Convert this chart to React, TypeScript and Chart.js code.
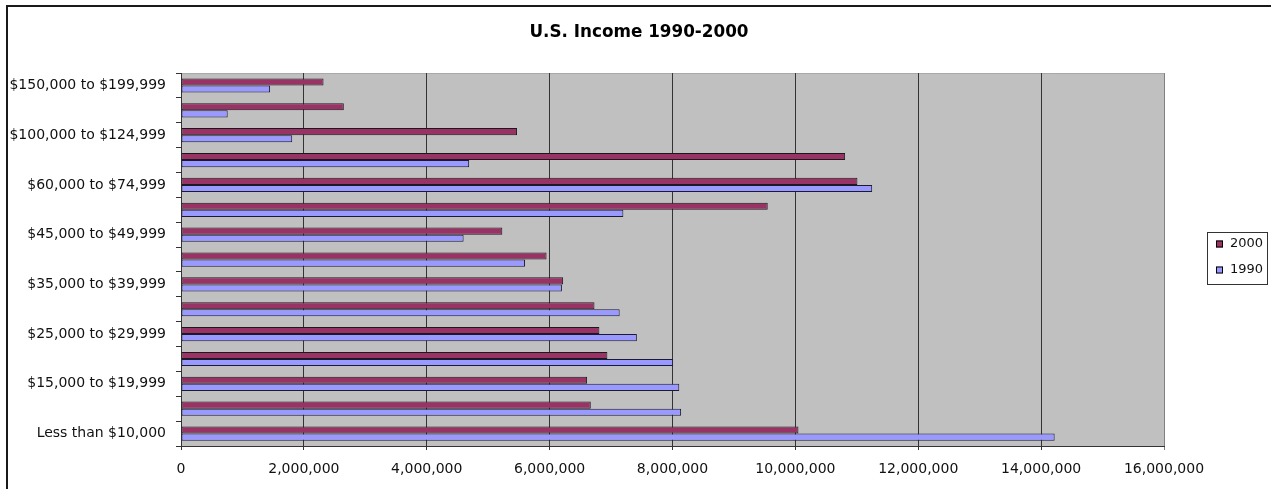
import React, { useEffect, useRef } from 'react';
import { Chart, registerables } from 'chart.js';

Chart.register(...registerables);

const categories = [
  'Less than $10,000',
  '$10,000 to $14,999',
  '$15,000 to $19,999',
  '$20,000 to $24,999',
  '$25,000 to $29,999',
  '$30,000 to $34,999',
  '$35,000 to $39,999',
  '$40,000 to $44,999',
  '$45,000 to $49,999',
  '$50,000 to $59,999',
  '$60,000 to $74,999',
  '$75,000 to $99,999',
  '$100,000 to $124,999',
  '$125,000 to $149,999',
  '$150,000 to $199,999',
];

const values2000 = [
  10050000, 6670000, 6610000, 6940000, 6810000, 6730000, 6220000, 5950000,
  5230000, 9550000, 11010000, 10810000, 5470000, 2650000, 2320000,
];

const values1990 = [
  14220000, 8140000, 8110000, 8010000, 7420000, 7140000, 6200000, 5600000,
  4600000, 7200000, 11250000, 4690000, 1810000, 760000, 1450000,
];

const labeledCategories = [
  'Less than $10,000',
  '$15,000 to $19,999',
  '$25,000 to $29,999',
  '$35,000 to $39,999',
  '$45,000 to $49,999',
  '$60,000 to $74,999',
  '$100,000 to $124,999',
  '$150,000 to $199,999',
];

const seriesNames = ['2000', '1990'];
const titleText = 'U.S. Income 1990-2000';
const xMin = 0;
const xMax = 16000000;
const xStep = 2000000;

const FONT = 'DejaVu Sans';

const decorPlugin = {
  id: 'decor',
  beforeDraw(chart: any) {
    const { ctx, chartArea: a } = chart;
    ctx.save();
    ctx.fillStyle = '#c0c0c0';
    ctx.fillRect(a.left, a.top, a.right - a.left, a.bottom - a.top);
    ctx.strokeStyle = '#a8a8a8';
    ctx.lineWidth = 1;
    ctx.beginPath();
    ctx.moveTo(a.left, a.top + 0.5);
    ctx.lineTo(a.right, a.top + 0.5);
    ctx.stroke();
    ctx.fillStyle = '#1a1a1a';
    ctx.fillRect(6, 5, 2, chart.height - 5);
    ctx.fillRect(6, 5, chart.width - 6, 2);
    ctx.restore();
  },
  afterDraw(chart: any) {
    const { ctx, chartArea: a } = chart;
    const datasets = chart.data.datasets;
    const bw = 60;
    const bh = 52;
    const bx = Math.round(a.right + 43);
    const by = Math.round((a.top + a.bottom) / 2 - bh / 2) - 2;
    ctx.save();
    ctx.fillStyle = '#ffffff';
    ctx.fillRect(bx, by, bw, bh);
    ctx.strokeStyle = '#333333';
    ctx.lineWidth = 1;
    ctx.strokeRect(bx + 0.5, by + 0.5, bw, bh);
    datasets.forEach((ds: any, i: number) => {
      const cy = by + 12 + i * 26;
      ctx.fillStyle = ds.backgroundColor;
      ctx.fillRect(bx + 9, cy - 3.5, 7, 7);
      ctx.strokeStyle = '#000000';
      ctx.strokeRect(bx + 9.5, cy - 3, 6, 6);
      ctx.fillStyle = '#111111';
      ctx.font = `13px "${FONT}"`;
      ctx.textBaseline = 'middle';
      ctx.textAlign = 'left';
      ctx.fillText(ds.label, bx + 23, cy);
    });
    ctx.restore();
  },
};

export default function App() {
  const canvasRef = useRef<HTMLCanvasElement | null>(null);

  useEffect(() => {
    document.body.style.margin = '0';
    const canvas = canvasRef.current;
    if (!canvas) return;
    const chart = new Chart(canvas, {
      type: 'bar',
      data: {
        labels: categories,
        datasets: [
          {
            label: seriesNames[0],
            data: values2000,
            backgroundColor: '#993366',
            borderColor: '#1a1a1a',
            borderWidth: 1,
            borderSkipped: false,
          },
          {
            label: seriesNames[1],
            data: values1990,
            backgroundColor: '#9999ff',
            borderColor: '#1a1a33',
            borderWidth: 1,
            borderSkipped: false,
          },
        ],
      },
      options: {
        indexAxis: 'y',
        responsive: false,
        animation: false,
        devicePixelRatio: 1,
        datasets: {
          bar: {
            categoryPercentage: 0.571,
            barPercentage: 1,
          },
        },
        layout: { padding: { left: 7, right: 0, top: 0, bottom: 0 } },
        plugins: {
          legend: { display: false },
          tooltip: { enabled: false },
          title: {
            display: true,
            text: titleText,
            color: '#000000',
            font: { family: FONT, size: 16.8, weight: 'bold' },
            padding: { top: 22.9, bottom: 30 },
          },
        },
        scales: {
          x: {
            type: 'linear',
            min: xMin,
            max: xMax,
            border: { display: true, color: '#333333', width: 1 },
            grid: {
              color: (c: any) => (c.tick && c.tick.value === xMax ? '#808080' : '#333333'),
              lineWidth: 1,
              drawTicks: true,
              tickLength: 4,
            },
            ticks: {
              stepSize: xStep,
              color: '#111111',
              font: { family: FONT, size: 14 },
              padding: 10.5,
              maxRotation: 0,
              callback: (v: any) => Number(v).toLocaleString('en-US'),
            },
            afterFit: (s: any) => {
              s.height = 43;
            },
          },
          y: {
            type: 'category',
            reverse: true,
            border: { display: true, color: '#333333', width: 1 },
            grid: {
              display: true,
              drawOnChartArea: false,
              drawTicks: true,
              tickLength: 5,
              color: '#333333',
              offset: true,
            },
            ticks: {
              autoSkip: false,
              color: '#111111',
              font: { family: FONT, size: 14 },
              padding: 10,
              callback: function (this: any, v: any) {
                const label = this.getLabelForValue(v);
                return labeledCategories.includes(label) ? label : '';
              },
            },
            afterFit: (s: any) => {
              s.width = 174;
            },
          },
          legendSpace: {
            type: 'linear',
            position: 'right',
            display: true,
            grid: { display: false, drawTicks: false },
            border: { display: false },
            ticks: { display: false },
            afterFit: (s: any) => {
              s.width = 107;
            },
          },
        },
      },
      plugins: [decorPlugin],
    } as any);
    return () => {
      chart.destroy();
    };
  }, []);

  return (
    <div style={{ width: 1271, height: 489 }}>
      <canvas
        ref={canvasRef}
        width={1271}
        height={489}
        style={{ display: 'block', width: 1271, height: 489 }}
      />
    </div>
  );
}
